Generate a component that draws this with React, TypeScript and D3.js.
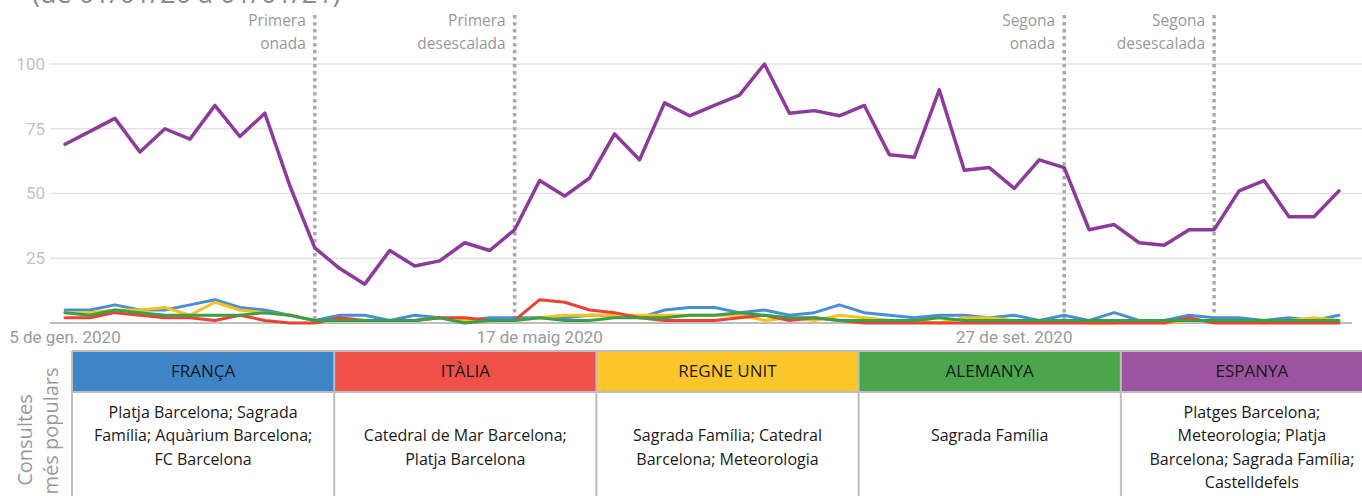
import React from 'react';
import * as d3 from 'd3';

// weekly dates, 5 Jan 2020 -> 27 Dec 2020
const weeks: Date[] = d3.timeWeek.range(new Date(2020, 0, 5), new Date(2020, 11, 28));

const espanya = [69, 74, 79, 66, 75, 71, 84, 72, 81, 53, 29, 21, 15, 28, 22, 24, 31, 28, 36, 55,
  49, 56, 73, 63, 85, 80, 84, 88, 100, 81, 82, 80, 84, 65, 64, 90, 59, 60, 52, 63,
  60, 36, 38, 31, 30, 36, 36, 51, 55, 41, 41, 51];
const franca = [5, 5, 7, 5, 5, 7, 9, 6, 5, 3, 1, 3, 3, 1, 3, 2, 1, 2, 2, 2,
  2, 3, 3, 2, 5, 6, 6, 4, 5, 3, 4, 7, 4, 3, 2, 3, 3, 2, 3, 1,
  3, 1, 4, 1, 1, 3, 2, 2, 1, 2, 1, 3];
const italia = [2, 2, 4, 3, 2, 2, 1, 3, 1, 0, 0, 2, 1, 1, 1, 2, 2, 1, 1, 9,
  8, 5, 4, 2, 1, 1, 1, 2, 3, 1, 2, 1, 0, 0, 0, 0, 0, 0, 0, 0,
  0, 0, 0, 0, 0, 2, 0, 0, 0, 0, 0, 0];
const regneUnit = [4, 4, 5, 5, 6, 3, 8, 5, 4, 3, 1, 1, 1, 1, 1, 2, 1, 1, 1, 2,
  3, 3, 3, 3, 3, 3, 3, 3, 1, 2, 1, 3, 2, 1, 1, 0, 2, 2, 1, 1,
  1, 0, 0, 1, 0, 1, 1, 1, 0, 1, 2, 1];
const alemanya = [4, 3, 5, 4, 3, 3, 3, 3, 4, 3, 1, 1, 1, 1, 1, 2, 0, 1, 1, 2,
  1, 1, 2, 2, 2, 3, 3, 4, 3, 2, 2, 1, 1, 1, 1, 2, 1, 1, 1, 1,
  1, 1, 1, 1, 1, 1, 1, 1, 1, 1, 1, 1];

const yTicks = [25, 50, 75, 100];
const xTickDates = [new Date(2020, 0, 5), new Date(2020, 4, 17), new Date(2020, 8, 27)];
const xTickLabels = ['5 de gen. 2020', '17 de maig 2020', '27 de set. 2020'];

const eventDates = [new Date(2020, 2, 15), new Date(2020, 4, 10), new Date(2020, 9, 11), new Date(2020, 10, 22)];
const eventLabels = [['Primera', 'onada'], ['Primera', 'desescalada'], ['Segona', 'onada'], ['Segona', 'desescalada']];

const countries = ['FRANÇA', 'ITÀLIA', 'REGNE UNIT', 'ALEMANYA', 'ESPANYA'];
const headerColors = ['#3d85c6', '#ef5148', '#fdc72c', '#4ba64b', '#9c54a0'];
const lineColors = ['#4a8fd6', '#ea4335', '#f8c21c', '#3a9f48', '#8d3a9c'];
const queries = [
  ['Platja Barcelona; Sagrada', 'Família; Aquàrium Barcelona;', 'FC Barcelona'],
  ['Catedral de Mar Barcelona;', 'Platja Barcelona'],
  ['Sagrada Família; Catedral', 'Barcelona; Meteorologia'],
  ['Sagrada Família'],
  ['Platges Barcelona;', 'Meteorologia; Platja', 'Barcelona; Sagrada Família;', 'Castelldefels'],
];

const W = 1362;
const H = 496;

export default function App() {
  const x = d3.scaleTime().domain([weeks[0], weeks[weeks.length - 1]]).range([65, 1339]);
  const y = d3.scaleLinear().domain([0, 100]).range([323, 64]);
  const line = d3.line<number>().x((_, i) => x(weeks[i])).y((d) => y(d));

  // draw order: small series first, Spain on top
  const series = [
    { values: franca, color: lineColors[0] },
    { values: regneUnit, color: lineColors[2] },
    { values: italia, color: lineColors[1] },
    { values: alemanya, color: lineColors[3] },
    { values: espanya, color: lineColors[4] },
  ];

  const tableLeft = 72;
  const tableRight = 1383;
  const colW = (tableRight - tableLeft) / 5;
  const headTop = 351;
  const headH = 41;
  const calibri = '"Open Sans", "Noto Sans", sans-serif';

  return (
    <svg width={W} height={H} style={{ position: 'absolute', left: 0, top: 0, background: '#fff' }}>
      <text x={32} y={3} fontFamily={calibri} fontSize={27} fill="#8a8a8a">(de 01/01/20 a 01/01/21)</text>

      {/* grid */}
      {yTicks.map((t) => (
        <g key={t}>
          <line x1={50} x2={W} y1={y(t)} y2={y(t)} stroke="#e3e3e3" strokeWidth={1.5} />
          <text x={45} y={y(t)} dy="0.35em" textAnchor="end" fontFamily="Roboto, sans-serif" fontSize={17} fill="#c2c2c2">{t}</text>
        </g>
      ))}
      <line x1={50} x2={1352} y1={y(0)} y2={y(0)} stroke="#a8a8a8" strokeWidth={1.5} />

      {xTickDates.map((d, i) => (
        <text key={i} x={x(d)} y={343} textAnchor="middle" fontFamily="Roboto, sans-serif" fontSize={17} fill="#9a9a9a">{xTickLabels[i]}</text>
      ))}

      {/* events */}
      {eventDates.map((d, i) => (
        <g key={i}>
          <line x1={x(d)} x2={x(d)} y1={15} y2={322} stroke="#aaaaaa" strokeWidth={3.5} strokeDasharray="3.5,3.5" />
          {eventLabels[i].map((s, k) => (
            <text key={k} x={x(d) - 9} y={26 + k * 23} textAnchor="end" fontFamily={calibri} fontSize={15.5} fill="#999">{s}</text>
          ))}
        </g>
      ))}

      {series.map((s, i) => (
        <path key={i} d={line(s.values) || ''} fill="none" stroke={s.color}
          strokeWidth={i === 4 ? 3.5 : 3} strokeLinejoin="round" strokeLinecap="round" />
      ))}

      {/* table */}
      <text transform={`translate(32,440) rotate(-90)`} textAnchor="middle" fontFamily={calibri} fontSize={20} fill="#9a9a9a">Consultes</text>
      <text transform={`translate(58,431) rotate(-90)`} textAnchor="middle" fontFamily={calibri} fontSize={20} fill="#9a9a9a">més populars</text>

      {countries.map((c, i) => {
        const cx = tableLeft + colW * i;
        const n = queries[i].length;
        const firstRow = n === 3 ? 0 : n === 4 ? 0 : 1;
        return (
          <g key={c}>
            <rect x={cx} y={headTop} width={colW} height={headH} fill={headerColors[i]} />
            <text x={cx + colW / 2} y={headTop + headH / 2} dy="0.35em" textAnchor="middle" fontFamily={calibri} fontSize={17} fill="#1a1a1a">{c}</text>
            {queries[i].map((q, k) => (
              <text key={k} x={cx + colW / 2} y={412 + (firstRow + k) * 23.5} dy="0.35em" textAnchor="middle" fontFamily={calibri} fontSize={16} fill="#1a1a1a">{q}</text>
            ))}
          </g>
        );
      })}
      {d3.range(6).map((i) => (
        <line key={i} x1={tableLeft + colW * i} x2={tableLeft + colW * i} y1={headTop} y2={H} stroke="#bdbdbd" strokeWidth={2} />
      ))}
      <line x1={tableLeft} x2={W} y1={headTop} y2={headTop} stroke="#bdbdbd" strokeWidth={2} />
      <line x1={tableLeft} x2={W} y1={headTop + headH} y2={headTop + headH} stroke="#bdbdbd" strokeWidth={2} />
    </svg>
  );
}
